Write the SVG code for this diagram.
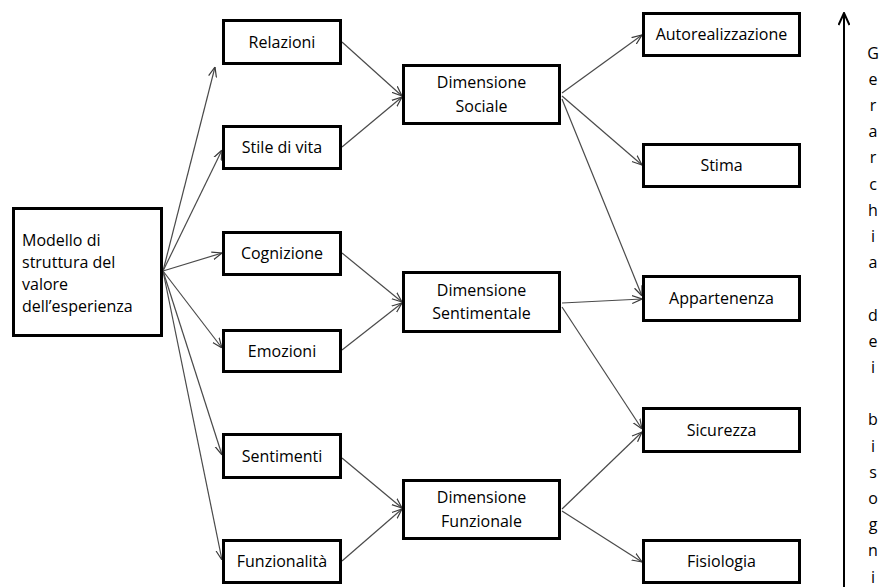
<svg xmlns="http://www.w3.org/2000/svg" width="882" height="587" viewBox="0 0 882 587">
<style>
.box{fill:#fff;stroke:#000;stroke-width:3}
.t{font-family:"Open Sans","Liberation Sans",sans-serif;font-size:16px;fill:#000;text-anchor:middle}
.tl{font-family:"Open Sans","Liberation Sans",sans-serif;font-size:16px;fill:#000}
.c{stroke:#4a4a4a;stroke-width:1.2;fill:none;marker-end:url(#arr)}
</style>
<defs>
<marker id="arr" viewBox="0 0 10 10" refX="10" refY="5" markerWidth="10" markerHeight="10" markerUnits="userSpaceOnUse" orient="auto">
<path d="M0,1 L10,5 L0,9" fill="none" stroke="#3a3a3a" stroke-width="1.2"/>
</marker>
<marker id="arrB" viewBox="0 0 14 12" refX="13" refY="6" markerWidth="14" markerHeight="12" markerUnits="userSpaceOnUse" orient="auto">
<path d="M1,0.5 L13,6 L1,11.5" fill="none" stroke="#000" stroke-width="2"/>
</marker>
</defs>
<g id="connectors">
<line class="c" x1="163" y1="271" x2="215" y2="67"/>
<line class="c" x1="163" y1="271" x2="222" y2="150"/>
<line class="c" x1="163" y1="271" x2="222" y2="253"/>
<line class="c" x1="163" y1="271" x2="222" y2="348"/>
<line class="c" x1="163" y1="271" x2="222" y2="455"/>
<line class="c" x1="163" y1="271" x2="222" y2="560"/>
<line class="c" x1="342" y1="42" x2="402" y2="96"/>
<line class="c" x1="342" y1="147" x2="402" y2="97"/>
<line class="c" x1="342" y1="253" x2="402" y2="302"/>
<line class="c" x1="342" y1="350" x2="402" y2="303"/>
<line class="c" x1="342" y1="458" x2="402" y2="508"/>
<line class="c" x1="342" y1="561" x2="402" y2="509"/>
<line class="c" x1="562" y1="93" x2="642" y2="35"/>
<line class="c" x1="562" y1="96" x2="642" y2="165"/>
<line class="c" x1="562" y1="99" x2="642" y2="296"/>
<line class="c" x1="562" y1="303" x2="642" y2="299"/>
<line class="c" x1="562" y1="307" x2="642" y2="429"/>
<line class="c" x1="562" y1="509" x2="642" y2="432"/>
<line class="c" x1="562" y1="511" x2="642" y2="562"/>
<line x1="844" y1="587" x2="844" y2="13" stroke="#000" stroke-width="2" marker-end="url(#arrB)"/>
</g>
<g id="modello"><rect class="box" x="13.5" y="208.5" width="148" height="127"/>
<text class="tl" x="22" y="246">Modello di</text>
<text class="tl" x="22" y="268">struttura del</text>
<text class="tl" x="22" y="290">valore</text>
<text class="tl" x="22" y="312">dell’esperienza</text></g>
<g id="relazioni"><rect class="box" x="223.5" y="20.5" width="117" height="43"/><text class="t" x="282" y="47.5">Relazioni</text></g>
<g id="stile"><rect class="box" x="223.5" y="126.5" width="117" height="42"/><text class="t" x="282" y="153">Stile di vita</text></g>
<g id="cognizione"><rect class="box" x="223.5" y="232.5" width="117" height="42"/><text class="t" x="282" y="259">Cognizione</text></g>
<g id="emozioni"><rect class="box" x="223.5" y="330.5" width="117" height="41"/><text class="t" x="282" y="356.5">Emozioni</text></g>
<g id="sentimenti"><rect class="box" x="223.5" y="434.5" width="117" height="43"/><text class="t" x="282" y="461.5">Sentimenti</text></g>
<g id="funzionalita"><rect class="box" x="223.5" y="540.5" width="117" height="42"/><text class="t" x="282" y="567">Funzionalità</text></g>
<g id="dim-sociale"><rect class="box" x="403.5" y="65.5" width="156" height="58"/><text class="t" x="481.5" y="88">Dimensione</text><text class="t" x="481.5" y="112">Sociale</text></g>
<g id="dim-sentimentale"><rect class="box" x="403.5" y="272.5" width="156" height="59"/><text class="t" x="481.5" y="295.5">Dimensione</text><text class="t" x="481.5" y="319">Sentimentale</text></g>
<g id="dim-funzionale"><rect class="box" x="403.5" y="480.5" width="156" height="58"/><text class="t" x="481.5" y="503">Dimensione</text><text class="t" x="481.5" y="527">Funzionale</text></g>
<g id="autorealizzazione"><rect class="box" x="643.5" y="13.5" width="156" height="42"/><text class="t" x="721.5" y="40">Autorealizzazione</text></g>
<g id="stima"><rect class="box" x="643.5" y="144.5" width="156" height="42"/><text class="t" x="721.5" y="171">Stima</text></g>
<g id="appartenenza"><rect class="box" x="643.5" y="276.5" width="156" height="44"/><text class="t" x="721.5" y="304">Appartenenza</text></g>
<g id="sicurezza"><rect class="box" x="643.5" y="408.5" width="156" height="43"/><text class="t" x="721.5" y="435.5">Sicurezza</text></g>
<g id="fisiologia"><rect class="box" x="643.5" y="540.5" width="156" height="42"/><text class="t" x="721.5" y="567">Fisiologia</text></g>
<g id="gerarchia">
<text class="t" x="873">
<tspan x="873" y="58.5">G</tspan><tspan x="873" y="84.7">e</tspan><tspan x="873" y="110.9">r</tspan><tspan x="873" y="137.1">a</tspan><tspan x="873" y="163.3">r</tspan><tspan x="873" y="189.5">c</tspan><tspan x="873" y="215.7">h</tspan><tspan x="873" y="241.9">i</tspan><tspan x="873" y="268.1">a</tspan><tspan x="873" y="320.5">d</tspan><tspan x="873" y="346.7">e</tspan><tspan x="873" y="372.9">i</tspan><tspan x="873" y="425.3">b</tspan><tspan x="873" y="451.5">i</tspan><tspan x="873" y="477.7">s</tspan><tspan x="873" y="503.9">o</tspan><tspan x="873" y="530.1">g</tspan><tspan x="873" y="556.3">n</tspan><tspan x="873" y="582.5">i</tspan>
</text>
</g>
</svg>
